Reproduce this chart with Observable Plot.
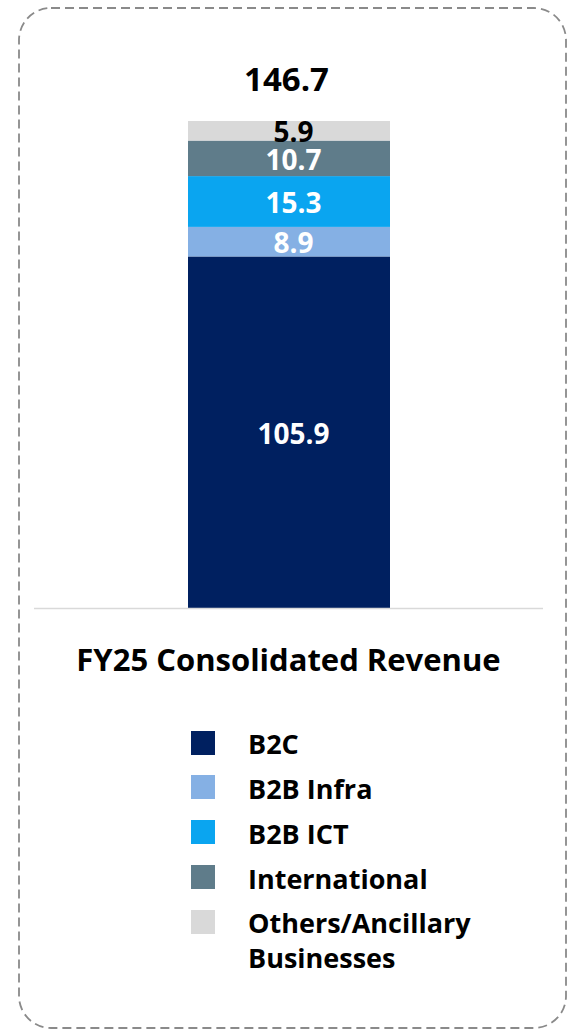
<!DOCTYPE html>
<html><head><meta charset="utf-8">
<script src="https://cdn.jsdelivr.net/npm/d3@7"></script>
<script src="https://cdn.jsdelivr.net/npm/@observablehq/plot@0.6"></script>
<style>
html,body{margin:0;padding:0;background:#fff;}
body{font-family:"Open Sans",Lato,sans-serif;}
#wrap{position:relative;width:577px;height:1031px;overflow:hidden;}
#frame{position:absolute;left:0;top:0;}
#chart{position:absolute;left:0;top:0;}
#title{position:absolute;left:0;width:577px;top:643.5px;text-align:center;font-weight:700;font-size:31px;line-height:31px;color:#000;white-space:nowrap;}
.sw{position:absolute;left:191px;width:24px;height:24px;}
.lab{position:absolute;left:248px;width:300px;font-weight:700;font-size:27px;line-height:35px;color:#000;}
</style>
</head><body>
<div id="wrap">
<svg id="frame" width="577" height="1031"><rect x="19" y="8" width="547" height="1020" rx="32" ry="32" fill="none" stroke="#8a8a8a" stroke-width="1.8" stroke-dasharray="9 5"/></svg>
<div id="chart"></div>
<div id="title"></div>
<div id="legend"></div>
</div>
<script>
const categories = ["FY25"];
const segments = ["B2C", "B2B Infra", "B2B ICT", "International", "Others/Ancillary Businesses"];
const values = [105.9, 8.9, 15.3, 10.7, 5.9];
const colors = ["#002060", "#85B0E4", "#0AA5F0", "#5F7C8A", "#D9D9D9"];
const totals = [146.7];
const titleText = "FY25 Consolidated Revenue";

const rows = segments.map((s, i) => ({cat: categories[0], segment: s, value: values[i]}));
const totalRows = categories.map((c, i) => ({cat: c, total: totals[i]}));
const darkLabel = segments[4];

const chart = Plot.plot({
  width: 577,
  height: 620,
  marginTop: 121,
  marginBottom: 12,
  marginLeft: 34,
  marginRight: 34,
  style: {background: "transparent", fontFamily: "'Open Sans', Lato, sans-serif"},
  x: {domain: categories, paddingInner: 0, paddingOuter: 0.754, axis: null},
  y: {domain: [0, totals[0]], axis: null},
  color: {domain: segments, range: colors},
  marks: [
    Plot.barY(rows, {x: "cat", y: "value", fill: "segment", z: "segment"}),
    Plot.text(rows, Plot.stackY({x: "cat", y: "value", z: "segment",
      text: d => d.segment !== darkLabel ? d.value.toFixed(1) : "",
      dx: 4, dy: 2, fill: "#ffffff", fontSize: 28, fontWeight: 700})),
    Plot.text(rows, Plot.stackY({x: "cat", y: "value", z: "segment",
      text: d => d.segment === darkLabel ? d.value.toFixed(1) : "",
      dx: 4, dy: 2, fill: "#000000", fontSize: 28, fontWeight: 700})),
    Plot.text(totalRows, {x: "cat", y: "total", text: d => d.total.toFixed(1), dx: -3, dy: -41,
      fill: "#000000", fontSize: 33, fontWeight: 700}),
    Plot.ruleY([0], {stroke: "#d9d9d9", strokeWidth: 1.5})
  ]
});
document.getElementById("chart").appendChild(chart);
document.getElementById("title").textContent = titleText;

const legend = document.getElementById("legend");
segments.forEach((s, i) => {
  const capTop = 735 + 44.75 * i;
  const sw = document.createElement("div");
  sw.className = "sw";
  sw.style.top = (capTop - 4.5) + "px";
  sw.style.background = colors[i];
  legend.appendChild(sw);
  const lab = document.createElement("div");
  lab.className = "lab";
  lab.style.top = (capTop - 8.6) + "px";
  lab.textContent = s;
  legend.appendChild(lab);
});
</script>
</body></html>
